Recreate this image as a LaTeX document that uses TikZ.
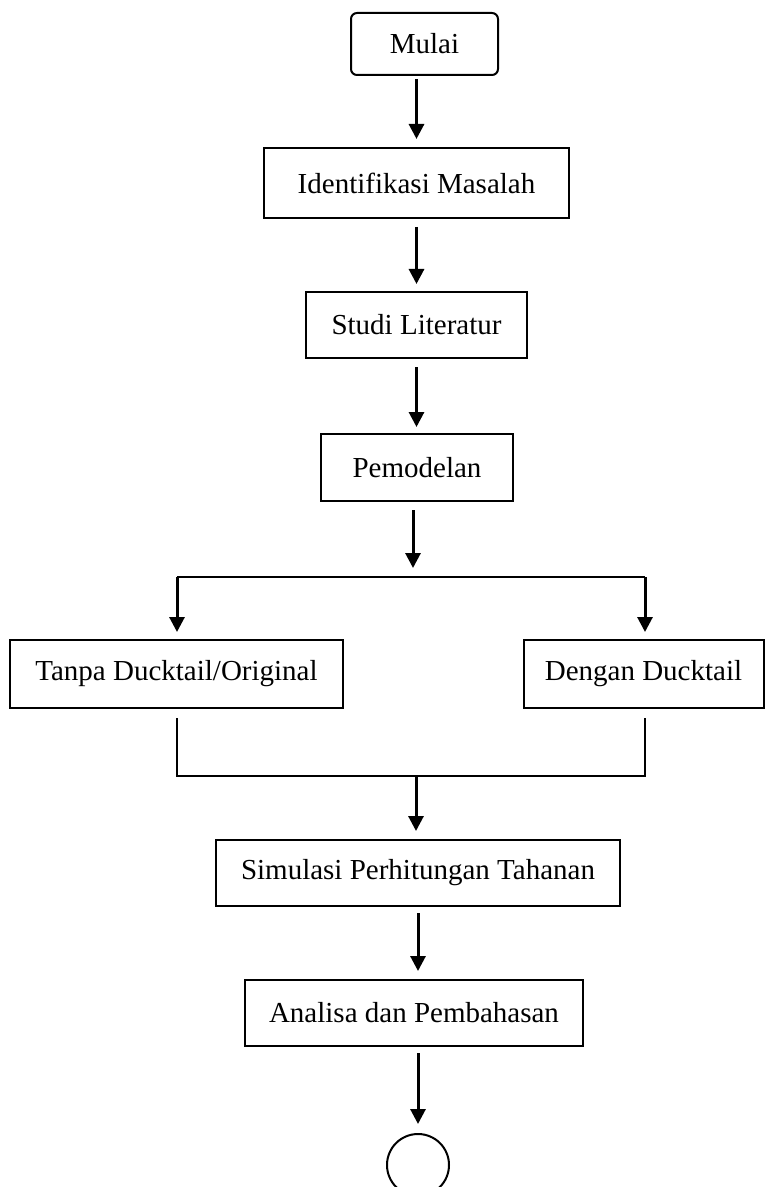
\documentclass[tikz,border=0pt]{standalone}
\usepackage{fontspec}
\setmainfont{Liberation Serif}
\usetikzlibrary{arrows.meta}

\begin{document}
\begin{tikzpicture}[x=.5pt,y=-.5pt,
        kotak/.style={draw,line width=1pt,inner sep=0pt,font=\fontsize{14.5}{17}\selectfont},
        panah/.style={line width=1.5pt,-{Triangle[width=7.5pt,length=7.5pt]}},
        garis/.style={line width=1.2pt}]
    \useasboundingbox (0,0) rectangle (765,1187);
    \node[kotak,rounded corners=3pt,minimum width=73.5pt,minimum height=31pt] (mulai) at (424.5,44) {Mulai};
    \node[kotak,minimum width=152.5pt,minimum height=35pt] (ident) at (416.5,183) {Identifikasi Masalah};
    \node[kotak,minimum width=110.5pt,minimum height=33pt] (studi) at (416.5,325) {Studi Literatur};
    \node[kotak,minimum width=96pt,minimum height=33.5pt] (model) at (417,467.5) {Pemodelan};
    \node[kotak,minimum width=166.5pt,minimum height=34pt] (tanpa) at (176.5,674) {Tanpa Ducktail/Original};
    \node[kotak,minimum width=120pt,minimum height=34pt] (dengan) at (643.5,674) {Dengan Ducktail};
    \node[kotak,minimum width=202pt,minimum height=33pt] (simulasi) at (418,873) {Simulasi Perhitungan Tahanan};
    \node[kotak,minimum width=169pt,minimum height=33pt] (analisa) at (414,1013) {Analisa dan Pembahasan};
    \node[kotak,circle,minimum size=31pt] (selesai) at (418,1165) {};
    % titik bantu percabangan
    \coordinate (split) at (413,568);
    \coordinate (splitL) at (177,577);
    \coordinate (splitR) at (645,577);
    \coordinate (joinL) at (177,776);
    \coordinate (joinR) at (645,776);
    \coordinate (join) at (416,776);
    % panah utama
    \draw[panah,shorten <=1.5pt,shorten >=4pt] (ident.north |- mulai.south) -- (ident.north);
    \draw[panah,shorten <=4pt,shorten >=3.5pt] (ident.south) -- (studi.north);
    \draw[panah,shorten <=4pt,shorten >=3pt] (studi.south) -- (studi.south |- model.north);
    \draw[panah,shorten <=4pt] (split |- model.south) -- (split);
    \draw[garis] (splitL) -- (splitR);
    \draw[panah,shorten >=3.5pt] (splitL) -- (splitL |- tanpa.north);
    \draw[panah,shorten >=3.5pt] (splitR) -- (splitR |- dengan.north);
    \draw[garis,shorten <=4.5pt,shorten >=4.5pt] (joinL |- tanpa.south) -- (joinL) -- (joinR) -- (joinR |- dengan.south);
    \draw[panah,shorten >=4pt] (join) -- (join |- simulasi.north);
    \draw[panah,shorten <=3pt,shorten >=4pt] (simulasi.south) -- (simulasi.south |- analisa.north);
    \draw[panah,shorten <=3pt,shorten >=4.5pt] (selesai.north |- analisa.south) -- (selesai);
\end{tikzpicture}
\end{document}
